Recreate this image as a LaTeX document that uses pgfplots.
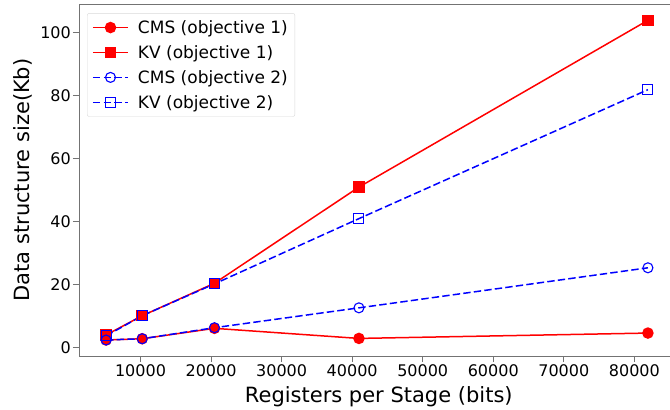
\documentclass[border=0pt]{standalone}
\usepackage{fontspec}
\setmainfont{DejaVu Sans}
\usepackage{pgfplots}
\pgfplotsset{compat=1.18}
\definecolor{mred}{RGB}{255,0,0}
\definecolor{mblue}{RGB}{0,0,255}
\begin{document}
\begin{tikzpicture}
\begin{axis}[
  name=ax,
  scale only axis,
  width=596pt, height=352pt,
  xmin=1280, xmax=85760,
  ymin=-2.575, ymax=109.075,
  xtick={10000,20000,30000,40000,50000,60000,70000,80000},
  ytick={0,20,40,60,80,100},
  scaled x ticks=false,
  /pgf/number format/set thousands separator={},
  /pgf/number format/assume math mode=true,
  tick align=outside,
  xtick pos=bottom, ytick pos=left,
  major tick length=6pt,
  axis line style={black!55, line width=0.9pt},
  tick style={black!55, line width=0.9pt},
  ticklabel style={font=\fontsize{16}{19}\selectfont, inner sep=2pt},
  xlabel={Registers per Stage (bits)},
  ylabel={Data structure size(Kb)},
  label style={font=\fontsize{21}{25}\selectfont},
  xlabel style={at={(axis description cs:0.503,-0.133)}, anchor=base},
  ylabel style={at={(axis description cs:-0.0948,0.5)}, anchor=center},
  legend cell align=left,
  legend style={at={(axis description cs:0.0135,0.974)}, anchor=north west,
    font=\fontsize{17}{19}\selectfont, draw=black!15, rounded corners=2pt,
    inner xsep=5pt, inner ysep=5pt, row sep=6.5pt},
  legend image code/.code={\path[draw=none,fill=none] (0pt,0pt) -- (43pt,0pt);\draw[mark repeat=2,mark phase=2] plot coordinates {(0pt,0pt)(17.5pt,0pt)(35pt,0pt)};},
]
\addplot[mred, line width=1.5pt, mark=*, mark size=5pt, mark options={solid, fill=mred}]
  coordinates {(5120,2.5) (10240,2.9) (20480,6.2) (40960,3.0) (81920,4.7)};
\addlegendentry{CMS (objective 1)}
\addplot[mred, line width=1.5pt, mark=square*, mark size=5pt, mark options={solid, fill=mred}]
  coordinates {(5120,4.1) (10240,10.2) (20480,20.5) (40960,51.0) (81920,103.9)};
\addlegendentry{KV (objective 1)}
\addplot[mblue, line width=1.5pt, dash pattern=on 7.4pt off 3.2pt, mark=o, mark size=5pt, mark options={solid, fill=none, line width=1.1pt}]
  coordinates {(5120,2.5) (10240,2.9) (20480,6.4) (40960,12.7) (81920,25.4)};
\addlegendentry{CMS (objective 2)}
\addplot[mblue, line width=1.5pt, dash pattern=on 7.4pt off 3.2pt, mark=square, mark size=5pt, mark options={solid, fill=none, line width=1.1pt}]
  coordinates {(5120,3.8) (10240,10.2) (20480,20.3) (40960,41.0) (81920,81.9)};
\addlegendentry{KV (objective 2)}
\end{axis}
\pgfresetboundingbox
\path ([xshift=-79pt,yshift=-53pt]ax.south west) rectangle ([xshift=-5pt,yshift=4pt]ax.north east);
\end{tikzpicture}
\end{document}
